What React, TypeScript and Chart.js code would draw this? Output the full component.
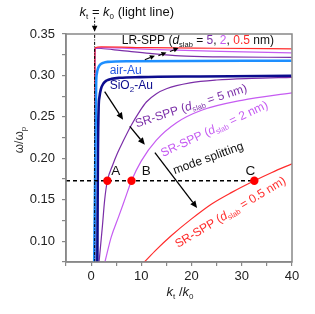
import React, { useEffect, useRef } from "react";
import { Chart, registerables } from "chart.js";
Chart.register(...registerables);

// ---------- data ----------
const xTickLabels = [0, 10, 20, 30, 40];
const yTickLabels = [0.1, 0.15, 0.2, 0.25, 0.3, 0.35];

const lightLineX = [0.7, 0.7];
const lightLineY = [0.075, 0.35];

const airAuX = [0.62, 0.75, 0.85, 1.0, 1.15, 1.4, 1.8, 2.4, 3.3, 7.7, 39.9];
const airAuY = [0.075, 0.15, 0.21, 0.29, 0.3025, 0.309, 0.313, 0.3152, 0.3164, 0.3172, 0.3178];

const sio2AuX = [1.24, 1.3, 1.36, 1.5, 1.65, 1.95, 2.45, 3.1, 4.1, 5.7, 9.7, 21.7, 39.9];
const sio2AuY = [0.075, 0.15, 0.21, 0.262, 0.2735, 0.2835, 0.2903, 0.2939, 0.296, 0.2972, 0.298, 0.2988, 0.2996];

const lr05X = [0.72, 0.74, 0.8, 2, 11.7, 25, 39.9];
const lr05Y = [0.075, 0.32, 0.3335, 0.3345, 0.3335, 0.3328, 0.3321];
const lr2X = [0.72, 0.74, 0.8, 2, 11.7, 25.7, 39.9];
const lr2Y = [0.075, 0.32, 0.333, 0.3335, 0.3315, 0.3291, 0.3272];
const lr5X = [0.72, 0.74, 0.8, 2, 5.7, 11.7, 17.7, 25.7, 39.9];
const lr5Y = [0.075, 0.32, 0.333, 0.3325, 0.3303, 0.3266, 0.3236, 0.3224, 0.3218];

const sr5X = [1.58, 2.24, 2.7, 3.24, 4.3, 5.3, 6.4, 8.0, 9.7, 11, 13, 15, 19.7, 25, 32, 40];
const sr5Y = [0.075, 0.1176, 0.15, 0.173, 0.192, 0.207, 0.221, 0.24, 0.257, 0.268, 0.278, 0.284, 0.291, 0.2945, 0.2965, 0.2978];

const sr2X = [2.75, 4.0, 5.5, 6.8, 8.04, 10, 13, 17, 22, 30, 40];
const sr2Y = [0.075, 0.105, 0.13, 0.152, 0.173, 0.197, 0.222, 0.243, 0.258, 0.27, 0.279];

const sr05X = [10.6, 13, 16, 20, 24, 28, 32.5, 36, 40];
const sr05Y = [0.075, 0.09, 0.107, 0.127, 0.145, 0.159, 0.173, 0.183, 0.1935];

const pointX = [3.24, 8.04, 32.5];
const pointY = [0.173, 0.173, 0.173];
const pointNames = ["A", "B", "C"];

const splitY = 0.173;
const splitX = [-5, 32.5];

// ---------- styles ----------
const FAM = '"Liberation Sans", Arial, Helvetica, sans-serif';
const C_PURPLE = "#7b2ea8";
const C_VIOLET = "#c65cf2";
const C_RED = "#ff2b2b";
const C_LBLUE = "#1e8fff";
const C_NAVY = "#0c0c8e";
const C_AIRTXT = "#2457e0";

type Part = { t: string; size: number; italic?: boolean; color?: string; dy?: number };

function richWidth(ctx: CanvasRenderingContext2D, parts: Part[]) {
  let w = 0;
  for (const p of parts) {
    ctx.font = `${p.italic ? "italic " : ""}${p.size}px ${FAM}`;
    w += ctx.measureText(p.t).width;
  }
  return w;
}

function drawRich(
  ctx: CanvasRenderingContext2D,
  parts: Part[],
  x: number,
  y: number,
  align: "left" | "center",
  color: string
) {
  const w = richWidth(ctx, parts);
  let cx = align === "center" ? x - w / 2 : x;
  ctx.textAlign = "left";
  ctx.textBaseline = "alphabetic";
  for (const p of parts) {
    ctx.font = `${p.italic ? "italic " : ""}${p.size}px ${FAM}`;
    ctx.fillStyle = p.color || color;
    ctx.fillText(p.t, cx, y + (p.dy || 0));
    cx += ctx.measureText(p.t).width;
  }
}

function arrow(
  ctx: CanvasRenderingContext2D,
  x1: number,
  y1: number,
  x2: number,
  y2: number,
  dash: number[] = [],
  head = 7,
  hw = 3.2,
  lw = 1.3
) {
  const ang = Math.atan2(y2 - y1, x2 - x1);
  const bx = x2 - head * Math.cos(ang);
  const by = y2 - head * Math.sin(ang);
  ctx.save();
  ctx.strokeStyle = "#000";
  ctx.fillStyle = "#000";
  ctx.lineWidth = lw;
  ctx.setLineDash(dash);
  ctx.beginPath();
  ctx.moveTo(x1, y1);
  ctx.lineTo(bx, by);
  ctx.stroke();
  ctx.setLineDash([]);
  ctx.beginPath();
  ctx.moveTo(x2, y2);
  ctx.lineTo(bx + hw * Math.sin(ang), by - hw * Math.cos(ang));
  ctx.lineTo(bx - hw * Math.sin(ang), by + hw * Math.cos(ang));
  ctx.closePath();
  ctx.fill();
  ctx.restore();
}

function srLabel(d: string, color: string): Part[] {
  return [
    { t: "SR-SPP (", size: 12 },
    { t: "d", size: 12, italic: true },
    { t: "slab", size: 7.5, dy: 2.5 },
    { t: ` = ${d} nm)`, size: 12 },
  ].map((p) => ({ ...p, color }));
}

const annotPlugin = {
  id: "annot",
  afterDatasetsDraw(chart: any) {
    const { ctx, chartArea: a, scales } = chart;
    const X = (v: number) => scales.x.getPixelForValue(v);
    const Y = (v: number) => scales.y.getPixelForValue(v);
    ctx.save();
    // frame
    ctx.strokeStyle = "#888";
    ctx.lineWidth = 1.5;
    ctx.strokeRect(a.left, a.top, a.right - a.left, a.bottom - a.top);

    // top label + arrow
    drawRich(
      ctx,
      [
        { t: "k", size: 13, italic: true },
        { t: "t", size: 8, dy: 3 },
        { t: " = ", size: 13 },
        { t: "k", size: 13, italic: true },
        { t: "0", size: 8, dy: 3 },
        { t: " (light line)", size: 13 },
      ],
      X(-2.3),
      Y(0.372),
      "left",
      "#111"
    );
    arrow(ctx, X(0.7), Y(0.3702), X(0.7), Y(0.3527), [2, 1.5], 6, 2.8, 1);

    // LR-SPP label
    drawRich(
      ctx,
      [
        { t: "LR-SPP (", size: 12 },
        { t: "d", size: 12, italic: true },
        { t: "slab", size: 7.5, dy: 2.5 },
        { t: " = ", size: 12 },
        { t: "5", size: 12, color: C_PURPLE },
        { t: ", ", size: 12 },
        { t: "2", size: 12, color: C_VIOLET },
        { t: ", ", size: 12 },
        { t: "0.5", size: 12, color: C_RED },
        { t: " nm)", size: 12 },
      ],
      X(6.1),
      Y(0.3375),
      "left",
      "#111"
    );
    // small LR arrows
    arrow(ctx, X(10.7), Y(0.319), X(12.7), Y(0.3239), [], 5, 2.5, 1.1);
    arrow(ctx, X(13.4), Y(0.3239), X(15), Y(0.3278), [], 5, 2.5, 1.1);
    arrow(ctx, X(15.7), Y(0.329), X(17.4), Y(0.333), [], 5, 2.5, 1.1);

    // air-Au, SiO2-Au
    drawRich(ctx, [{ t: "air-Au", size: 12 }], X(3.7), Y(0.3018), "left", C_AIRTXT);
    drawRich(
      ctx,
      [
        { t: "SiO", size: 12 },
        { t: "2", size: 8, dy: 2.5 },
        { t: "-Au", size: 12 },
      ],
      X(3.7),
      Y(0.2831),
      "left",
      C_NAVY
    );

    // big arrows
    arrow(ctx, X(2.7), Y(0.2805), X(6.36), Y(0.2467));
    arrow(ctx, X(7.7), Y(0.2386), X(10.7), Y(0.2165));
    arrow(ctx, X(12.7), Y(0.2068), X(21.1), Y(0.1402));

    // rotated labels
    const rot = (parts: Part[], xv: number, yv: number, deg: number, color: string) => {
      ctx.save();
      ctx.translate(X(xv), Y(yv));
      ctx.rotate((deg * Math.PI) / 180);
      drawRich(ctx, parts, 0, 4, "center", color);
      ctx.restore();
    };
    rot(srLabel("5", C_PURPLE), 19.9, 0.2637, -18, C_PURPLE);
    rot(srLabel("2", C_VIOLET), 24.5, 0.2359, -25, C_VIOLET);
    rot([{ t: "mode splitting", size: 12 }], 23.3, 0.2007, -20, "#111");
    rot(srLabel("0.5", C_RED), 27.7, 0.1353, -31, C_RED);

    // A B C
    const lx = [4.9, 11.0, 31.7];
    pointNames.forEach((n, i) => {
      drawRich(ctx, [{ t: n, size: 13.5 }], X(lx[i]), Y(0.185) + 4.5, "center", "#111");
    });

    // axis titles
    drawRich(
      ctx,
      [
        { t: "k", size: 13, italic: true },
        { t: "t", size: 8, dy: 3 },
        { t: " /", size: 13 },
        { t: "k", size: 13, italic: true },
        { t: "0", size: 8, dy: 3 },
      ],
      180,
      a.bottom + 34,
      "center",
      "#222"
    );
    ctx.save();
    ctx.translate(23, 140);
    ctx.rotate(-Math.PI / 2);
    drawRich(
      ctx,
      [
        { t: "ω/ω", size: 12 },
        { t: "p", size: 8, dy: 3 },
      ],
      0,
      0,
      "center",
      "#333"
    );
    ctx.restore();
    ctx.restore();
  },
};

export default function App() {
  const ref = useRef<HTMLCanvasElement>(null);
  useEffect(() => {
    const canvas = ref.current!;
    const mk = (xs: number[], ys: number[]) => xs.map((x, i) => ({ x, y: ys[i] }));
    const line = (label: string, xs: number[], ys: number[], color: string, width: number, extra: any = {}) => ({
      label,
      data: mk(xs, ys),
      showLine: true,
      borderColor: color,
      backgroundColor: color,
      borderWidth: width,
      pointRadius: 0,
      cubicInterpolationMode: "monotone",
      ...extra,
    });
    const chart = new Chart(canvas, {
      type: "scatter",
      data: {
        datasets: [
          {
            label: "points",
            data: mk(pointX, pointY),
            pointRadius: 4.2,
            pointBackgroundColor: "#ff0000",
            pointBorderWidth: 0,
            showLine: false,
          } as any,
          line("split", splitX, splitX.map(() => splitY), "#000", 1.3, { borderDash: [4, 3] }),
          line("light", lightLineX, lightLineY, "#000", 1, { borderDash: [3, 1.5, 1, 1.5] }),
          line("airAu", airAuX, airAuY, C_LBLUE, 2.6),
          line("sio2Au", sio2AuX, sio2AuY, C_NAVY, 2.6),
          line("lr05", lr05X, lr05Y, C_RED, 1.2),
          line("lr2", lr2X, lr2Y, C_VIOLET, 1.2),
          line("lr5", lr5X, lr5Y, C_PURPLE, 1.2),
          line("sr05", sr05X, sr05Y, C_RED, 1.2),
          line("sr2", sr2X, sr2Y, C_VIOLET, 1.2),
          line("sr5", sr5X, sr5Y, C_PURPLE, 1.2),
        ],
      },
      options: {
        animation: false,
        responsive: false,
        devicePixelRatio: 1,
        layout: { padding: { top: 34, right: 23, left: 0, bottom: 0 } },
        plugins: { legend: { display: false }, tooltip: { enabled: false } },
        scales: {
          x: {
            type: "linear",
            min: -5,
            max: 40,
            ticks: {
              stepSize: 5,
              autoSkip: false,
              maxRotation: 0,
              padding: 3,
              color: "#222",
              font: { family: FAM, size: 13 },
              callback: (v: any) => (xTickLabels.includes(Number(v)) ? String(v) : ""),
            },
            grid: { display: true, drawOnChartArea: false, drawTicks: true, tickLength: 4, color: "#888", lineWidth: 1.2 },
            border: { display: true, color: "#888", width: 1.5 },
            afterFit: (s: any) => {
              s.height = 52;
            },
          },
          y: {
            type: "linear",
            min: 0.075,
            max: 0.35,
            ticks: {
              stepSize: 0.025,
              autoSkip: false,
              padding: 7,
              color: "#222",
              font: { family: FAM, size: 13 },
              callback: (v: any) => {
                const r = Math.round(Number(v) * 1000);
                return yTickLabels.some((t) => Math.round(t * 1000) === r) ? Number(v).toFixed(2) : "";
              },
            },
            grid: { display: true, drawOnChartArea: false, drawTicks: true, tickLength: 4, color: "#888", lineWidth: 1.2 },
            border: { display: true, color: "#888", width: 1.5 },
            afterFit: (s: any) => {
              s.width = 66;
            },
          },
        },
      } as any,
      plugins: [annotPlugin],
    });
    return () => chart.destroy();
  }, []);
  return (
    <div style={{ position: "fixed", left: 0, top: 0, width: 315, height: 314, background: "#fff" }}>
      <canvas ref={ref} width={315} height={314} style={{ display: "block", width: 315, height: 314 }} />
    </div>
  );
}
